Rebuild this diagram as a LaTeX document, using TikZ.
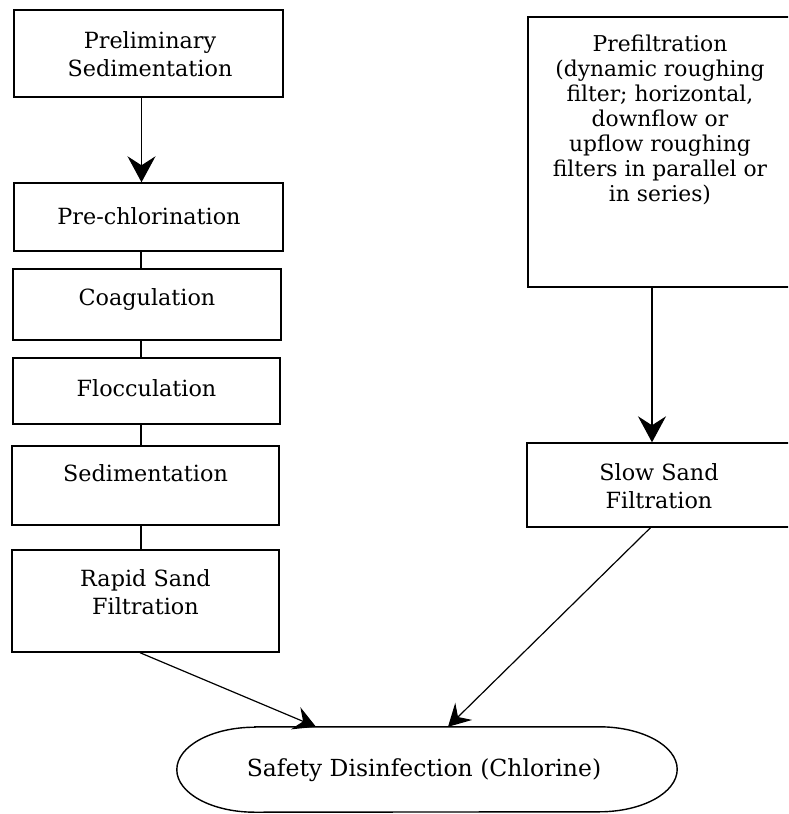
\documentclass[tikz,border=0pt]{standalone}
\usepackage{fontspec}
\setmainfont{DejaVu Serif}
\usetikzlibrary{arrows.meta}
\begin{document}
\begin{tikzpicture}[x=1pt,y=-1pt,
  box/.style={draw, line width=1.4pt, inner sep=0pt},
  lbl/.style={align=center, inner sep=0pt, font=\fontsize{22.3}{27.5}\selectfont},
  conn/.style={line width=1.2pt},
  bigtip/.style={-{Stealth[length=26pt,width=28pt,inset=9pt]}},
  smalltip/.style={-{Stealth[length=22pt,width=24pt,inset=8pt]}}]
\path[use as bounding box, clip] (0,0) rectangle (788,814);
% boxes
\node[box, minimum width=269pt, minimum height=87pt] (prelim) at (148.5,53.5) {};
\node[box, minimum width=269pt, minimum height=68pt] (prech) at (148.5,217) {};
\node[box, minimum width=268pt, minimum height=71pt] (coag) at (147,304.5) {};
\node[box, minimum width=267pt, minimum height=66pt] (floc) at (146.5,391) {};
\node[box, minimum width=267pt, minimum height=79pt] (sed) at (145.5,485.5) {};
\node[box, minimum width=267pt, minimum height=102pt] (rapid) at (145.5,601) {};
\node[box, minimum width=266pt, minimum height=270pt] (prefilt) at (661,152) {};
\node[box, minimum width=267pt, minimum height=84pt] (slow) at (660.5,485) {};
\node[minimum width=500pt, minimum height=85pt, inner sep=0pt] (dis) at (427,769.5) {};
\draw[line width=1.4pt] ([xshift=78pt]dis.north west) -- ([xshift=-78pt]dis.north east)
  arc[start angle=90, end angle=-90, x radius=78pt, y radius=42.5pt]
  -- ([xshift=78pt]dis.south west)
  arc[start angle=270, end angle=90, x radius=78pt, y radius=42.5pt] -- cycle;
% texts
\node[lbl] (prelim-t) at (150,54) {Preliminary\\Sedimentation};
\node[lbl] (prech-t) at (149,216) {Pre-chlorination};
\node[lbl] (coag-t) at (147,300) {Coagulation};
\node[lbl] (floc-t) at (146.5,388) {Flocculation};
\node[lbl] (sed-t) at (145.5,473) {Sedimentation};
\node[lbl] (rapid-t) at (145.5,592) {Rapid Sand\\Filtration};
\node[lbl, font=\fontsize{21.8}{25}\selectfont] (prefilt-t) at (660,120)
  {Prefiltration\\(dynamic roughing\\filter; horizontal,\\downflow or\\upflow roughing\\filters in parallel or\\in series)};
\node[lbl] (slow-t) at (659,486) {Slow Sand\\Filtration};
\node[lbl, font=\fontsize{23.5}{28}\selectfont] (dis-t) at (424,770) {Safety Disinfection (Chlorine)};
% connectors
\draw[conn, bigtip] ([xshift=-7pt]prelim.south) -- ([xshift=-7pt]prech.north);
\draw[conn] ([xshift=-7.5pt]prech.south) -- ([xshift=-7.5pt]prech.south |- coag.north);
\draw[conn] ([xshift=-6pt]coag.south) -- ([xshift=-6pt]coag.south |- floc.north);
\draw[conn] ([xshift=-5.5pt]floc.south) -- ([xshift=-5.5pt]floc.south |- sed.north);
\draw[conn] ([xshift=-4.5pt]sed.south) -- ([xshift=-4.5pt]sed.south |- rapid.north);
\draw[conn, bigtip] ([xshift=-9pt]prefilt.south) -- ([xshift=-9pt]prefilt.south |- slow.north);
\draw[conn, smalltip] ([xshift=-5.5pt]rapid.south) -- ([xshift=-111pt]dis.north);
\draw[conn, smalltip] ([xshift=-10pt]slow.south) -- ([xshift=21pt]dis.north);
\end{tikzpicture}
\end{document}
